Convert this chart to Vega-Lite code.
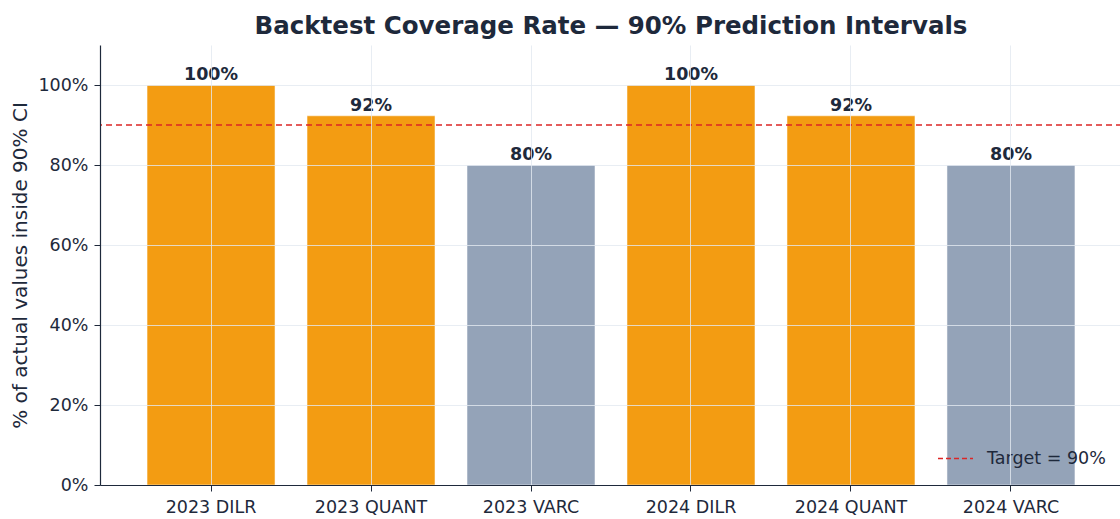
{
  "$schema": "https://vega.github.io/schema/vega-lite/v6.json",
  "autosize": "none",
  "width": 1022,
  "height": 440,
  "padding": {"left": 100, "top": 45, "right": 0, "bottom": 34},
  "background": "white",
  "title": {
    "text": "Backtest Coverage Rate — 90% Prediction Intervals",
    "font": "DejaVu Sans",
    "fontSize": 24.5,
    "fontWeight": "bold",
    "color": "#1e293b",
    "anchor": "middle",
    "offset": 6
  },
  "config": {
    "view": {"stroke": null},
    "font": "DejaVu Sans",
    "axis": {
      "labelFont": "DejaVu Sans",
      "labelFontSize": 17.5,
      "labelColor": "#1e293b",
      "titleFont": "DejaVu Sans",
      "titleFontSize": 20,
      "titleFontWeight": "normal",
      "titleColor": "#1e293b",
      "domainColor": "#1e293b",
      "tickColor": "#1e293b",
      "gridColor": "#e2e8f0",
      "gridOpacity": 0.8
    }
  },
  "datasets": {
    "coverage": [
      {"section": "2023 DILR", "coverage": 100, "meets_target": "yes"},
      {"section": "2023 QUANT", "coverage": 92.3, "meets_target": "yes"},
      {"section": "2023 VARC", "coverage": 80, "meets_target": "no"},
      {"section": "2024 DILR", "coverage": 100, "meets_target": "yes"},
      {"section": "2024 QUANT", "coverage": 92.3, "meets_target": "yes"},
      {"section": "2024 VARC", "coverage": 80, "meets_target": "no"}
    ],
    "target": [{"target": 90, "label": "Target = 90%"}]
  },
  "layer": [
    {
      "data": {"name": "coverage"},
      "mark": {"type": "bar", "stroke": "white", "strokeOpacity": 0.5, "strokeWidth": 1},
      "encoding": {
        "x": {
          "field": "section",
          "type": "nominal",
          "sort": null,
          "scale": {"paddingInner": 0.2, "paddingOuter": 0.294},
          "axis": {
            "title": null,
            "labelAngle": 0,
            "labelPadding": 7,
            "tickSize": 6,
            "grid": true,
            "zindex": 1,
            "domainWidth": 1.2
          }
        },
        "y": {
          "field": "coverage",
          "type": "quantitative",
          "scale": {"domain": [0, 110], "nice": false},
          "axis": {
            "title": "% of actual values inside 90% CI",
            "values": [0, 20, 40, 60, 80, 100],
            "labelExpr": "datum.value + '%'",
            "tickSize": 6,
            "labelPadding": 6,
            "titlePadding": 7,
            "grid": true,
            "zindex": 1,
            "domainWidth": 1.2
          }
        },
        "color": {
          "field": "meets_target",
          "type": "nominal",
          "scale": {"domain": ["yes", "no"], "range": ["#f39c12", "#94a3b8"]},
          "legend": null
        }
      }
    },
    {
      "data": {"name": "coverage"},
      "transform": [
        {"calculate": "format(datum.coverage, '.0f') + '%'", "as": "label"}
      ],
      "mark": {"type": "text", "baseline": "bottom", "dy": -1, "fontSize": 17.5, "fontWeight": "bold", "color": "#1e293b", "font": "DejaVu Sans"},
      "encoding": {
        "x": {"field": "section", "type": "nominal", "sort": null},
        "y": {"field": "coverage", "type": "quantitative"},
        "text": {"field": "label", "type": "nominal"}
      }
    },
    {
      "data": {"name": "target"},
      "mark": {"type": "rule", "strokeDash": [6, 4], "strokeWidth": 1.5},
      "encoding": {
        "y": {"field": "target", "type": "quantitative"},
        "stroke": {
          "field": "label",
          "type": "nominal",
          "scale": {"range": ["#dc2626"]},
          "legend": {
            "title": null,
            "orient": "none",
            "legendX": 833,
            "legendY": 391,
            "symbolType": "stroke",
            "symbolSize": 1225,
            "symbolStrokeWidth": 1.5,
            "symbolDash": [5, 3],
            "labelFontSize": 17.5,
            "labelFont": "DejaVu Sans",
            "labelColor": "#1e293b",
            "labelOffset": 13,
            "padding": 4
          }
        }
      }
    }
  ]
}
